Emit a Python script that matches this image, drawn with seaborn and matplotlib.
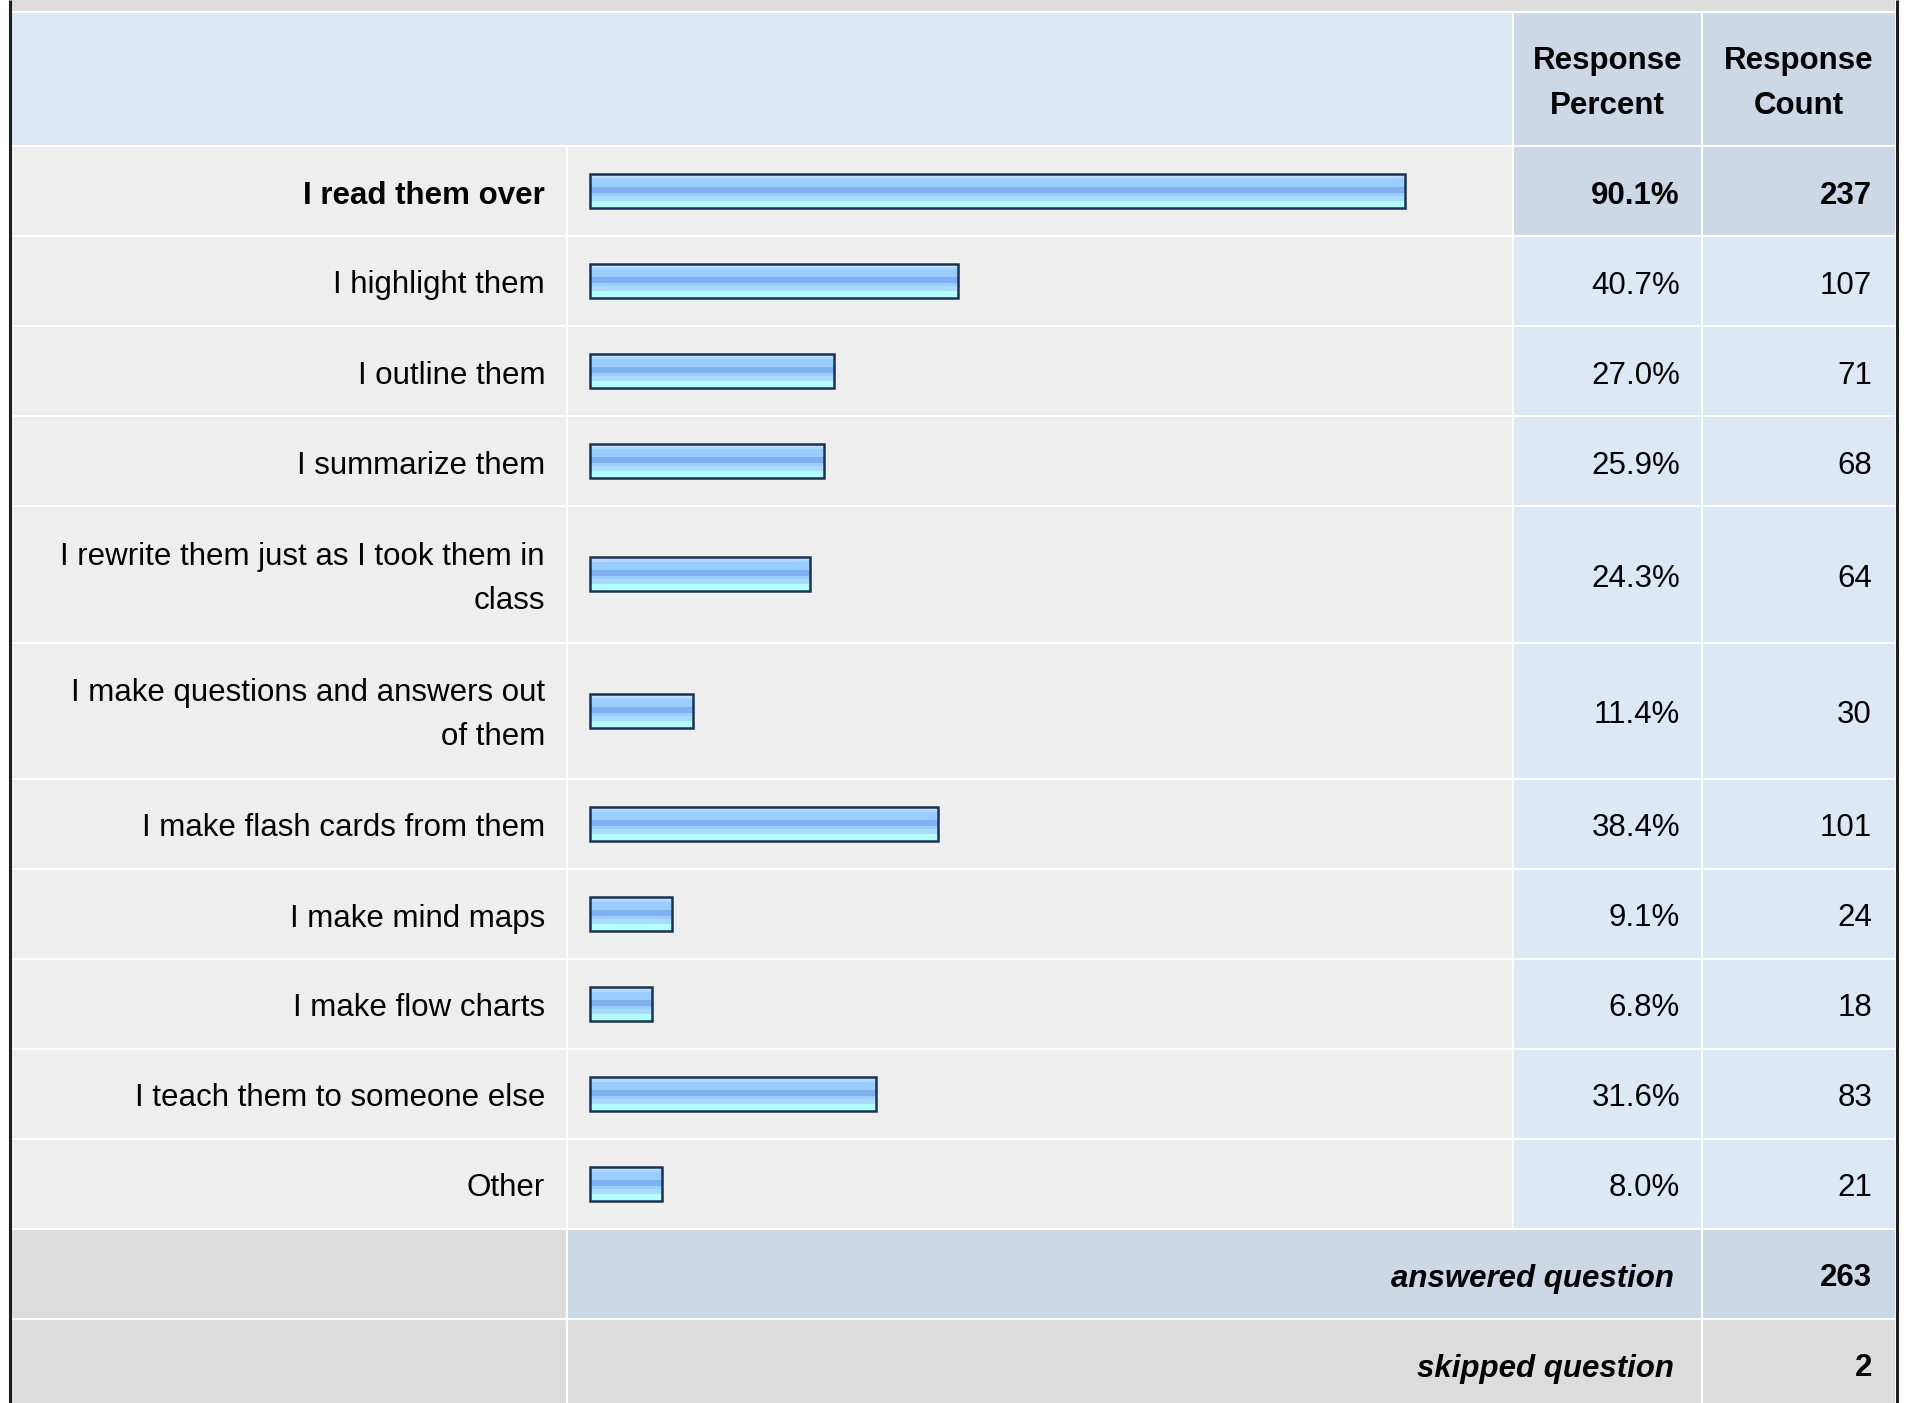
import numpy as np
import pandas as pd
import matplotlib
matplotlib.use("Agg")
import matplotlib.pyplot as plt
import seaborn as sns
from matplotlib.patches import Rectangle
from matplotlib.colors import to_rgb

# ---------------- data ----------------
categories = [
    "I read them over",
    "I highlight them",
    "I outline them",
    "I summarize them",
    "I rewrite them just as I took them in\nclass",
    "I make questions and answers out\nof them",
    "I make flash cards from them",
    "I make mind maps",
    "I make flow charts",
    "I teach them to someone else",
    "Other",
]
percents = [90.1, 40.7, 27.0, 25.9, 24.3, 11.4, 38.4, 9.1, 6.8, 31.6, 8.0]
counts = [237, 107, 71, 68, 64, 30, 101, 24, 18, 83, 21]
header_percent = "Response\nPercent"
header_count = "Response\nCount"
answered_label = "answered question"
answered_count = 263
skipped_label = "skipped question"
skipped_count = 2

# ---------------- layout (pixels) ----------------
W, H = 1909, 1403
X0, X1, X2, X3, X4 = 12, 567, 1513, 1702, 1895
HEADER_TOP, HEADER_BOT = 12, 146
SINGLE_H, DOUBLE_H = 90, 136.5
BAR_ORIGIN, PX_PER_PCT = 590, 9.05
BAR_H = 34

FONT = "Liberation Sans"
FS = 22.5

C_TOPBAND = "#DCDCDC"
C_HEAD = "#DDE8F5"
C_DARK = "#CCD8E6"
C_ROW = "#EEEEEE"
C_GRAY = "#DCDCDC"

sns.set_theme(style="white")
plt.rcParams["font.family"] = [FONT, "DejaVu Sans"]

fig = plt.figure(figsize=(W / 100, H / 100), dpi=100)
fig.patch.set_facecolor("white")

bg = fig.add_axes([0, 0, 1, 1], zorder=0)
bg.set_xlim(0, W)
bg.set_ylim(H, 0)
bg.axis("off")


def cell(x0, y0, x1, y1, color):
    bg.add_patch(Rectangle((x0, y0), x1 - x0, y1 - y0, facecolor=color,
                           edgecolor="none", linewidth=0))


# top band and header
cell(X0, 0, X4, HEADER_TOP, C_TOPBAND)
cell(X0, HEADER_TOP, X2, HEADER_BOT, C_HEAD)
cell(X2, HEADER_TOP, X4, HEADER_BOT, C_DARK)

# rows
bounds = [HEADER_BOT]
for lab in categories:
    h = DOUBLE_H if "\n" in lab else SINGLE_H
    bounds.append(bounds[-1] + h)
centers = [(bounds[i] + bounds[i + 1]) / 2 for i in range(len(categories))]

for i in range(len(categories)):
    y0, y1 = bounds[i], bounds[i + 1]
    cell(X0, y0, X2, y1, C_ROW)
    cell(X2, y0, X4, y1, C_DARK if i == 0 else C_HEAD)

ans_top = bounds[-1]
ans_bot = ans_top + SINGLE_H
skp_bot = ans_bot + SINGLE_H
cell(X0, ans_top, X1, ans_bot, C_GRAY)
cell(X1, ans_top, X4, ans_bot, C_DARK)
cell(X0, ans_bot, X4, skp_bot, C_GRAY)

# white grid lines
lw_grid = 1.5
bg.hlines([HEADER_TOP - 0.5] + bounds + [ans_bot], X0, X4, colors="white",
          linewidth=lw_grid, zorder=3)
bg.vlines(X1, HEADER_BOT, skp_bot, colors="white", linewidth=lw_grid, zorder=3)
bg.vlines(X2, HEADER_TOP, ans_top, colors="white", linewidth=lw_grid, zorder=3)
bg.vlines(X3, HEADER_TOP, skp_bot, colors="white", linewidth=lw_grid, zorder=3)

# outer dark borders
bg.vlines([10, 1897], 0, H, colors="#1E1E1E", linewidth=2.2, zorder=4)

# ---------------- texts ----------------
def txt(x, y, s, ha="right", weight="normal", style="normal"):
    bg.text(x, y + 4.5, s, ha=ha, va="center", fontsize=FS, fontweight=weight,
            fontstyle=style, color="black", linespacing=1.63, zorder=5,
            family=[FONT, "DejaVu Sans"])


txt((X2 + X3) / 2, (HEADER_TOP + HEADER_BOT) / 2, header_percent, ha="center", weight="bold")
txt((X3 + X4) / 2, (HEADER_TOP + HEADER_BOT) / 2, header_count, ha="center", weight="bold")

for i, (lab, p, c) in enumerate(zip(categories, percents, counts)):
    w = "bold" if i == 0 else "normal"
    txt(545, centers[i], lab, weight=w)
    txt(1680, centers[i], f"{p:.1f}%", weight=w)
    txt(1872, centers[i], f"{c}", weight=w)

txt(1674, (ans_top + ans_bot) / 2, answered_label, weight="bold", style="italic")
txt(1872, (ans_top + ans_bot) / 2, f"{answered_count}", weight="bold")
txt(1674, (ans_bot + skp_bot) / 2, skipped_label, weight="bold", style="italic")
txt(1872, (ans_bot + skp_bot) / 2, f"{skipped_count}", weight="bold")

# ---------------- bars (seaborn) ----------------
df = pd.DataFrame({"category": categories, "percent": percents,
                   "count": counts, "yc": centers})

bx = fig.add_axes([0, 0, 1, 1], zorder=2)
bx.patch.set_alpha(0)
min_gap = np.min(np.diff(np.unique(centers)))
sns.barplot(data=df, x="percent", y="yc", orient="h", native_scale=True,
            width=BAR_H / min_gap, color="#99CCFF", saturation=1,
            edgecolor="#1C3252", linewidth=1.8, errorbar=None, ax=bx)
xlim = (-BAR_ORIGIN / PX_PER_PCT, (W - BAR_ORIGIN) / PX_PER_PCT)
bx.set_xlim(*xlim)
bx.set_ylim(H, 0)

# stripe gradient for bars
stops = [(0.08, "#C4E1FF"), (0.16, "#ADD6FF"), (0.38, "#99CCFF"),
         (0.56, "#7DB1F1"), (0.66, "#99CCFF"), (0.79, "#A8DBFF"), (1.00, "#B3FFFF")]
n = 100
grad = np.zeros((n, 1, 3))
for k in range(n):
    f = (k + 0.5) / n
    for s, col in stops:
        if f <= s:
            grad[k, 0] = to_rgb(col)
            break

for patch in list(bx.patches):
    bb = patch.get_bbox()
    xa, xb = bb.x0, bb.x1
    ya, yb = min(bb.y0, bb.y1), max(bb.y0, bb.y1)
    im = bx.imshow(grad, extent=(xa, xb, yb, ya), origin="upper",
                   aspect="auto", interpolation="nearest", zorder=2)
    im.set_clip_path(patch)
    patch.set_facecolor("none")
    patch.set_zorder(3)

bx.set_xlim(*xlim)
bx.set_ylim(H, 0)
bx.axis("off")

fig.savefig("out.png", dpi=100, facecolor="white")
